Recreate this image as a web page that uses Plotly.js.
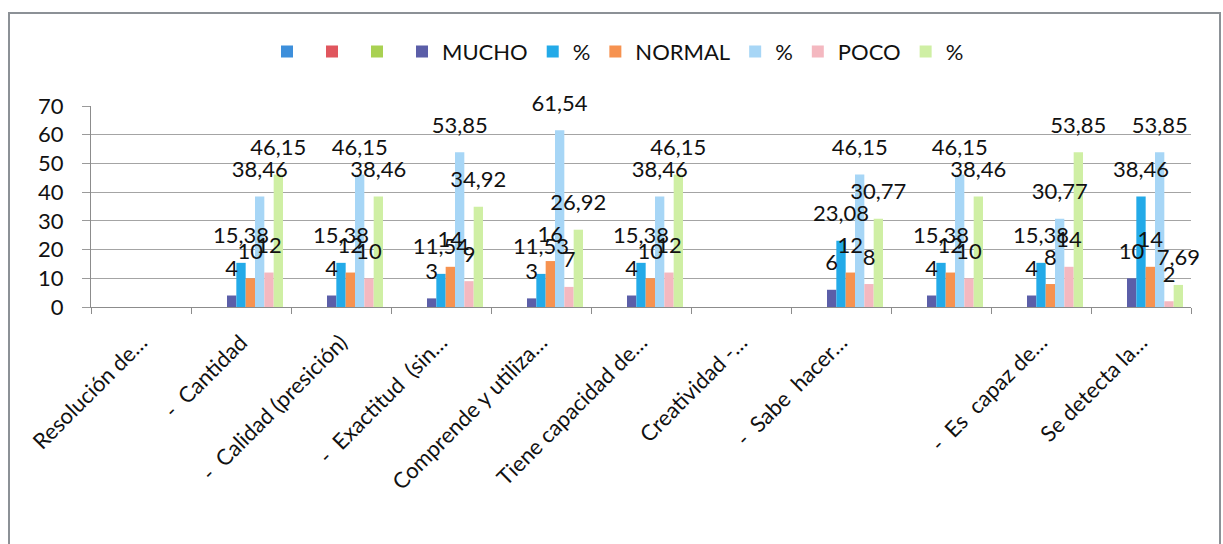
<!DOCTYPE html>
<html>
<head>
<meta charset="utf-8">
<script src="https://cdn.plot.ly/plotly-3.0.1.min.js"></script>
<style>
  html, body { margin: 0; padding: 0; background: #ffffff; }
  #wrap { position: relative; width: 1223px; height: 544px; overflow: hidden; }
  #chart { position: absolute; left: 0; top: 0; width: 1223px; height: 544px; }
  #frame {
    position: absolute; left: 8px; top: 12px; width: 1209px; height: 540px;
    border: 2px solid #8c9196; border-bottom: none; pointer-events: none;
  }
</style>
</head>
<body>
<div id="wrap">
  <div id="chart"></div>
  <div id="frame"></div>
</div>
<script>
// Evaluation criteria (x axis categories)
const categories = [
  'Resolución de…',
  '-  Cantidad',
  '-  Calidad (presición)',
  '-  Exactitud  (sin…',
  'Comprende y utiliza…',
  'Tiene capacidad de…',
  'Creatividad -…',
  '-  Sabe  hacer…',
  ' ',
  '-  Es  capaz de…',
  'Se detecta la…'
];

// Counts and percentages per level
const mucho      = [null, 4, 4, 3, 3, 4, null, 6, 4, 4, 10];
const muchoPct   = [null, 15.38, 15.38, 11.54, 11.53, 15.38, null, 23.08, 15.38, 15.38, 38.46];
const normal     = [null, 10, 12, 14, 16, 10, null, 12, 12, 8, 14];
const normalPct  = [null, 38.46, 46.15, 53.85, 61.54, 38.46, null, 46.15, 46.15, 30.77, 53.85];
const poco       = [null, 12, 10, 9, 7, 12, null, 8, 10, 14, 2];
const pocoPct    = [null, 46.15, 38.46, 34.92, 26.92, 46.15, null, 30.77, 38.46, 53.85, 7.69];
const blank      = categories.map(() => null);

// Series: name, values, colour
const series = [
  { name: '',       values: blank,     color: '#3d8fdb' },
  { name: '',       values: blank,     color: '#e0565e' },
  { name: '',       values: blank,     color: '#a9d152' },
  { name: 'MUCHO',  values: mucho,     color: '#5b5ea8' },
  { name: '%',      values: muchoPct,  color: '#23aae8' },
  { name: 'NORMAL', values: normal,    color: '#f69250' },
  { name: '%',      values: normalPct, color: '#a7d6f6' },
  { name: 'POCO',   values: poco,      color: '#f4b8c0' },
  { name: '%',      values: pocoPct,   color: '#cfefa4' }
];

const FONT = 'Lato, "Open Sans", sans-serif';
const LABEL_LIFT = 4; // gap (in axis units) between a bar top and its value label
const fmt = v => (v === null || v === undefined) ? '' : String(v).replace('.', ',');

// Visible bars
const bars = series.map((s, i) => ({
  type: 'bar',
  name: s.name,
  x: categories,
  y: s.values,
  offsetgroup: String(i),
  marker: { color: s.color, line: { width: 0 } },
  hoverinfo: 'x+y'
}));

// Value labels: transparent segments sitting on each bar top, carrying the text
const labels = series.map((s, i) => ({
  type: 'bar',
  name: s.name,
  showlegend: false,
  x: categories,
  base: s.values,
  y: s.values.map(v => (v === null ? null : LABEL_LIFT)),
  offsetgroup: String(i),
  marker: { color: 'rgba(0,0,0,0)', line: { width: 0 } },
  text: s.values.map(fmt),
  textposition: 'outside',
  constraintext: 'none',
  cliponaxis: false,
  textfont: { family: FONT, size: 22, color: '#111111' },
  hoverinfo: 'skip'
}));

const layout = {
  width: 1223,
  height: 544,
  margin: { l: 91, r: 32, t: 106, b: 237, pad: 0 },
  paper_bgcolor: '#ffffff',
  plot_bgcolor: '#ffffff',
  barmode: 'group',
  bargap: 0.16,
  bargroupgap: 0,
  showlegend: true,
  legend: {
    orientation: 'h',
    x: 0.16, xanchor: 'left',
    y: 1.27, yanchor: 'middle',
    font: { family: FONT, size: 22, color: '#111111' },
    itemwidth: 30,
    traceorder: 'normal'
  },
  xaxis: {
    type: 'category',
    showline: true,
    linecolor: '#8c8c8c',
    linewidth: 1,
    ticks: 'outside',
    tickson: 'boundaries',
    ticklen: 6,
    tickcolor: '#8c8c8c',
    tickangle: -45,
    ticklabelstandoff: 13,
    tickfont: { family: FONT, size: 22, color: '#111111' },
    showgrid: false,
    zeroline: false,
    fixedrange: true
  },
  yaxis: {
    range: [0, 70],
    dtick: 10,
    showline: true,
    linecolor: '#8c8c8c',
    linewidth: 1,
    ticks: 'outside',
    ticklen: 8,
    tickcolor: '#9a9a9a',
    ticklabelstandoff: 14,
    tickfont: { family: FONT, size: 22, color: '#111111' },
    showgrid: true,
    gridcolor: '#a4a4a4',
    gridwidth: 1,
    zeroline: false,
    fixedrange: true
  }
};

Plotly.newPlot('chart', bars.concat(labels), layout, { displayModeBar: false, staticPlot: true });
</script>
</body>
</html>
